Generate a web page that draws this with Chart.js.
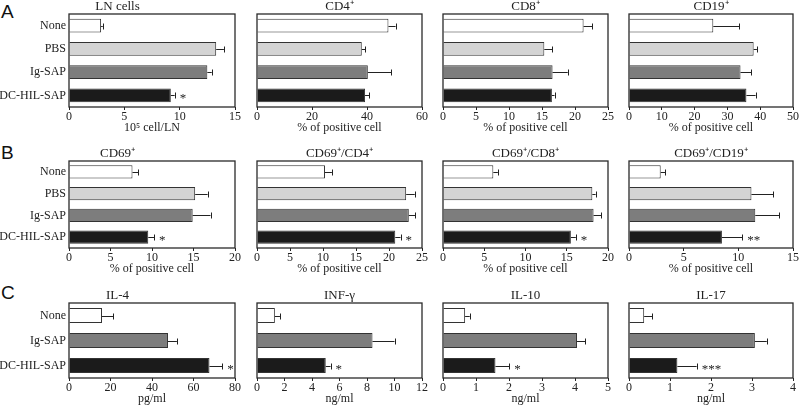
<!DOCTYPE html>
<html>
<head>
<meta charset="utf-8">
<script src="https://cdn.jsdelivr.net/npm/chart.js@4.4.1/dist/chart.umd.min.js"></script>
<style>
  body { margin: 0; width: 800px; height: 407px; background: #fff; position: relative; overflow: hidden; }
  .painel { position: absolute; }
  .letra { position: absolute; font-family: 'Liberation Sans', Arial, sans-serif; font-size: 19px; line-height: 19px; color: #111; }
</style>
</head>
<body>
<div class="letra" style="left:1px;top:2px">A</div>
<div class="letra" style="left:1px;top:143px">B</div>
<div class="letra" style="left:1px;top:283px">C</div>
<div id="campo_grafico"></div>

<script>
// groups
const gruposAB = ['None', 'PBS', 'Ig-SAP', 'DC-HIL-SAP'];
const gruposC = ['None', 'Ig-SAP', 'DC-HIL-SAP'];
const coresAB = ['#ffffff', '#d4d4d4', '#7d7d7d', '#1b1b1b'];
const coresC = ['#ffffff', '#7d7d7d', '#1b1b1b'];

// row A
const lnCells = [2.9, 13.3, 12.5, 9.2];
const lnCellsErr = [0.15, 0.7, 0.4, 0.35];
const lnCellsSig = ['', '', '', '*'];

const cd4 = [47.8, 38.1, 40.3, 39.3];
const cd4Err = [2.6, 1.2, 8.5, 1.5];
const cd4Sig = ['', '', '', ''];

const cd8 = [21.3, 15.35, 16.6, 16.5];
const cd8Err = [1.3, 1.2, 2.3, 0.4];
const cd8Sig = ['', '', '', ''];

const cd19 = [25.7, 38.0, 34.0, 35.8];
const cd19Err = [7.9, 1.0, 3.3, 2.8];
const cd19Sig = ['', '', '', ''];

// row B
const cd69 = [7.65, 15.2, 14.9, 9.55];
const cd69Err = [0.7, 1.5, 2.15, 0.7];
const cd69Sig = ['', '', '', '*'];

const cd69cd4 = [10.3, 22.6, 23.0, 20.95];
const cd69cd4Err = [1.05, 1.3, 1.0, 0.8];
const cd69cd4Sig = ['', '', '', '*'];

const cd69cd8 = [6.1, 18.1, 18.25, 15.5];
const cd69cd8Err = [0.55, 0.4, 0.9, 0.6];
const cd69cd8Sig = ['', '', '', '*'];

const cd69cd19 = [2.9, 11.2, 11.55, 8.5];
const cd69cd19Err = [0.4, 2.0, 2.2, 1.85];
const cd69cd19Sig = ['', '', '', '**'];

// row C
const il4 = [15.9, 47.7, 67.7];
const il4Err = [5.3, 4.3, 6.2];
const il4Sig = ['', '', '*'];

const infg = [1.3, 8.4, 5.0];
const infgErr = [0.37, 1.6, 0.35];
const infgSig = ['', '', '*'];

const il10 = [0.67, 4.06, 1.59];
const il10Err = [0.14, 0.25, 0.42];
const il10Sig = ['', '', '*'];

const il17 = [0.37, 3.07, 1.18];
const il17Err = [0.2, 0.29, 0.47];
const il17Sig = ['', '', '***'];

// axis ranges
const maximos = [15, 60, 25, 50, 20, 25, 20, 15, 80, 12, 5, 4];
const passos = [5, 20, 5, 10, 5, 5, 5, 5, 20, 2, 1, 1];
const titulos = ['LN cells', 'CD4⁺', 'CD8⁺', 'CD19⁺',
                 'CD69⁺', 'CD69⁺/CD4⁺', 'CD69⁺/CD8⁺', 'CD69⁺/CD19⁺',
                 'IL-4', 'INF-γ', 'IL-10', 'IL-17'];
const titulosX = ['10⁵ cell/LN', '% of positive cell', '% of positive cell', '% of positive cell',
                  '% of positive cell', '% of positive cell', '% of positive cell', '% of positive cell',
                  'pg/ml', 'ng/ml', 'ng/ml', 'ng/ml'];

const valores = [lnCells, cd4, cd8, cd19, cd69, cd69cd4, cd69cd8, cd69cd19, il4, infg, il10, il17];
const erros = [lnCellsErr, cd4Err, cd8Err, cd19Err, cd69Err, cd69cd4Err, cd69cd8Err, cd69cd19Err, il4Err, infgErr, il10Err, il17Err];
const sinais = [lnCellsSig, cd4Sig, cd8Sig, cd19Sig, cd69Sig, cd69cd4Sig, cd69cd8Sig, cd69cd19Sig, il4Sig, infgSig, il10Sig, il17Sig];

// plot boxes (px)
const colunas = [[69, 235], [257, 422], [443, 608], [629, 793]];
const linhas = [[14, 107], [161, 248], [303, 378]];

const serif = "'Liberation Serif', 'Times New Roman', serif";
const TOPO = 22, BASE = 28;

// error bars + asterisks
const barrasErro = {
  id: 'barrasErro',
  afterDatasetsDraw(chart) {
    const ctx = chart.ctx;
    const x = chart.scales.x;
    const ds = chart.data.datasets[0];
    const meta = chart.getDatasetMeta(0);
    ctx.save();
    ctx.strokeStyle = '#222';
    ctx.lineWidth = 1;
    meta.data.forEach((bar, i) => {
      const v = ds.data[i];
      const x0 = x.getPixelForValue(v);
      const x1 = x.getPixelForValue(v + ds.erros[i]);
      const y = Math.round(bar.y) + 0.5;
      ctx.beginPath();
      ctx.moveTo(x0, y);
      ctx.lineTo(x1, y);
      ctx.moveTo(Math.round(x1) + 0.5, y - 3);
      ctx.lineTo(Math.round(x1) + 0.5, y + 3);
      ctx.stroke();
      if (ds.sinais[i]) {
        ctx.fillStyle = '#222';
        ctx.font = '13px ' + serif;
        ctx.textAlign = 'left';
        ctx.textBaseline = 'middle';
        ctx.fillText(ds.sinais[i], x1 + 5, y + 3);
      }
    });
    ctx.restore();
  }
};

const moldura = {
  id: 'moldura',
  afterDraw(chart) {
    const a = chart.chartArea;
    const ctx = chart.ctx;
    ctx.save();
    ctx.strokeStyle = '#2a2a2a';
    ctx.lineWidth = 1.3;
    ctx.strokeRect(a.left, a.top, a.right - a.left, a.bottom - a.top);
    ctx.restore();
  }
};

const campo = document.getElementById('campo_grafico');

for (let i = 0; i < 12; i++) {
  const r = Math.floor(i / 4), c = i % 4;
  const [x0, x1] = colunas[c];
  const [y0, y1] = linhas[r];
  const esq = c === 0 ? 0 : x0 - 8;
  const larg = c === 0 ? 250 : (x1 - x0) + 16;
  const alt = TOPO + (y1 - y0) + BASE;
  campo.innerHTML += `<div class="painel" style="left:${esq}px;top:${y0 - TOPO}px;width:${larg}px;height:${alt}px">
                         <canvas id="grafico${i}"></canvas>
                      </div>`;
}

for (let i = 0; i < 12; i++) {
  const r = Math.floor(i / 4), c = i % 4;
  const grupos = r === 2 ? gruposC : gruposAB;
  const cores = r === 2 ? coresC : coresAB;
  const el = document.getElementById('grafico' + i);

  new Chart(el, {
    type: 'bar',
    data: {
      labels: grupos,
      datasets: [{
        data: valores[i],
        erros: erros[i],
        sinais: sinais[i],
        backgroundColor: cores,
        borderColor: '#333',
        borderWidth: 1,
        categoryPercentage: 1,
        barPercentage: 0.6
      }]
    },
    options: {
      indexAxis: 'y',
      responsive: true,
      maintainAspectRatio: false,
      animation: false,
      layout: { padding: c === 0 ? { left: 0, right: 15, top: 0, bottom: 0 } : { left: 8, right: 8, top: 0, bottom: 0 } },
      plugins: {
        legend: { display: false },
        tooltip: { enabled: false },
        title: {
          display: true,
          text: titulos[i],
          color: '#222',
          font: { family: serif, size: 13, weight: 'normal', lineHeight: 1.2 },
          padding: { top: 6.4, bottom: 0 }
        }
      },
      scales: {
        x: {
          min: 0,
          max: maximos[i],
          ticks: { stepSize: passos[i], color: '#222', font: { family: serif, size: 12 }, padding: 0, maxRotation: 0 },
          grid: { drawOnChartArea: false, drawTicks: true, tickLength: 3, color: '#222' },
          border: { display: false },
          title: { display: true, text: titulosX[i], color: '#222', font: { family: serif, size: 12, lineHeight: 1.2 }, padding: 0 },
          afterFit(scale) { scale.height = BASE; }
        },
        y: {
          display: c === 0,
          ticks: { color: '#222', font: { family: serif, size: 12 }, padding: 3 },
          grid: { display: false, drawTicks: false },
          border: { display: false },
          afterFit(scale) { scale.width = c === 0 ? 69 : 0; }
        }
      }
    },
    plugins: [barrasErro, moldura]
  });
}
</script>
</body>
</html>
